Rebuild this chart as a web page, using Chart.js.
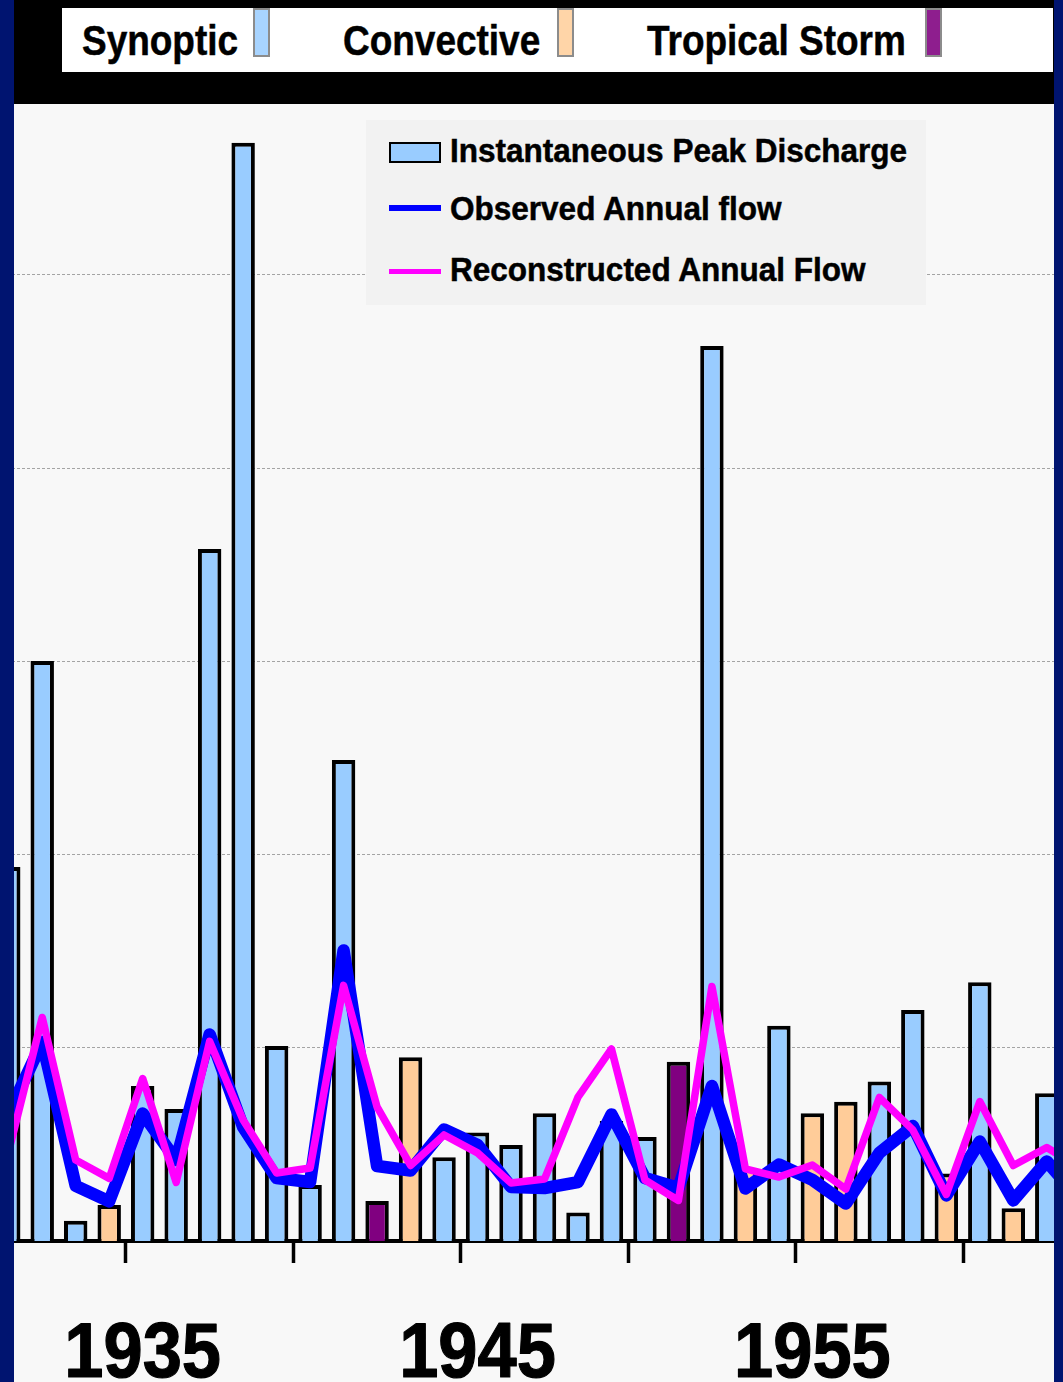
<!DOCTYPE html>
<html>
<head>
<meta charset="utf-8">
<script src="https://cdn.jsdelivr.net/npm/chart.js@4.4.1/dist/chart.umd.min.js"></script>
<style>
  html, body { margin: 0; padding: 0; }
  body {
    width: 1063px; height: 1382px; position: relative; overflow: hidden;
    background: #001470;
    font-family: "Liberation Sans", Arial, sans-serif; font-weight: bold; color: #000;
  }
  .band { position: absolute; left: 14px; top: 0; width: 1040px; height: 104px; background: #000; }
  .keybox { position: absolute; left: 62px; top: 8px; width: 991px; height: 64px; background: #fff; }
  .t { position: absolute; white-space: nowrap; line-height: 1; transform-origin: 0 0; -webkit-text-stroke: 0.5px #000; }
  .key { font-size: 42px; transform: scaleX(0.88); }
  .sw { position: absolute; box-sizing: border-box; border: 2px solid #8c8c8c; }
  .plot { position: absolute; left: 14px; top: 104px; width: 1040px; height: 1278px; overflow: hidden; background: #f8f8f8; }
  #chart { position: absolute; left: -22px; top: 0; }
  .lg { position: absolute; left: 366px; top: 120px; width: 560px; height: 185px; background: #f2f2f2; }
  .lgt { font-size: 33px; transform: scaleX(0.955); }
  .mk { position: absolute; box-sizing: border-box; }
</style>
</head>
<body>
  <div class="band"></div>
  <div class="keybox"></div>
  <div class="t key" style="left:82px; top:19.5px;">Synoptic</div>
  <div class="sw" style="left:253px; top:8px; width:17px; height:49px; background:#a8d4ff;"></div>
  <div class="t key" style="left:343px; top:19.5px;">Convective</div>
  <div class="sw" style="left:557px; top:8px; width:17px; height:49px; background:#ffd5a8;"></div>
  <div class="t key" style="left:647px; top:19.5px;">Tropical Storm</div>
  <div class="sw" style="left:925px; top:8px; width:17px; height:49px; background:#8e1e8e;"></div>

  <div class="plot"><canvas id="chart" width="1105" height="1278"></canvas></div>

  <div class="lg"></div>
  <div class="mk" style="left:389px; top:142px; width:52px; height:21px; background:#99ccff; border:2px solid #000;"></div>
  <div class="t lgt" style="left:450px; top:133.8px;">Instantaneous Peak Discharge</div>
  <div class="mk" style="left:389px; top:205px; width:52px; height:6px; background:#0000ff;"></div>
  <div class="t lgt" style="left:450px; top:192px;">Observed Annual flow</div>
  <div class="mk" style="left:389px; top:269px; width:52px; height:5px; background:#ff00ff;"></div>
  <div class="t lgt" style="left:450px; top:252.8px;">Reconstructed Annual Flow</div>

<script>
// Water years shown along the axis
const YEARS = ['1931','1932','1933','1934','1935','1936','1937','1938','1939','1940',
               '1941','1942','1943','1944','1945','1946','1947','1948','1949','1950',
               '1951','1952','1953','1954','1955','1956','1957','1958','1959','1960',
               '1961','1962','1963'];

// Flood type of each annual peak: S = synoptic, C = convective, T = tropical storm
const PEAK_TYPE = ['S','S','S','C','S','S','S','S','S','S',
                   'S','T','C','S','S','S','S','S','S','S',
                   'T','S','C','S','C','C','S','S','C','S',
                   'C','S',null];

// Instantaneous peak discharge
const PEAK_DISCHARGE = [19360, 30020, 1050, 1860, 8020, 6830, 35820, 56850, 10090, 2900,
                        24900, 2070, 9510, 4330, 5610, 4970, 6610, 1470, 6210, 5380,
                        9280, 46330, 3730, 11140, 6610, 7210, 8250, 11960, 3500, 13390,
                        1690, 7650, null];

// Observed annual flow
const OBSERVED_FLOW = [6620, 10300, 2850, 2050, 6600, 4190, 10690, 5900, 3260, 3050,
                       15040, 3880, 3650, 5770, 4970, 2800, 2740, 3050, 6550, 3260,
                       2740, 8020, 2720, 3960, 3160, 1940, 4560, 5950, 2360, 5150,
                       2100, 4120, 2120];

// Reconstructed annual flow
const RECONSTRUCTED_FLOW = [4660, 11570, 4190, 3240, 8410, 3030, 10330, 6260, 3520, 3780,
                            13230, 6940, 3910, 5490, 4560, 3000, 3210, 7450, 9940, 3160,
                            2100, 13170, 3730, 3310, 3930, 2690, 7430, 5750, 2410, 7220,
                            3910, 4840, 3780];

// Labelled years, years that start a tick interval, and horizontal grid values
const YEAR_LABELS = ['1935', '1945', '1955'];
const TICK_YEARS = ['1935', '1940', '1945', '1950', '1955', '1960'];
const GRID_VALUES = [10000, 20000, 30000, 40000, 50000];

const TYPE_COLORS = { S: '#99ccff', C: '#ffcc99', T: '#800080' };

// Large, slightly condensed year labels under the axis
const yearLabels = {
  id: 'yearLabels',
  afterDraw(chart) {
    const xs = chart.scales.x;
    const ctx = chart.ctx;
    const base = chart.chartArea.bottom + 136;
    ctx.save();
    ctx.fillStyle = '#000';
    ctx.strokeStyle = '#000';
    ctx.lineWidth = 1.2;
    ctx.lineJoin = 'round';
    ctx.font = 'bold 77px "Liberation Sans", Arial, sans-serif';
    ctx.textAlign = 'center';
    ctx.textBaseline = 'alphabetic';
    YEAR_LABELS.forEach(lbl => {
      const px = xs.getPixelForValue(YEARS.indexOf(lbl));
      ctx.save();
      ctx.translate(px, base);
      ctx.scale(0.915, 1);
      ctx.fillText(lbl, 0, 0);
      ctx.strokeText(lbl, 0, 0);
      ctx.restore();
    });
    ctx.restore();
  }
};

new Chart(document.getElementById('chart'), {
  data: {
    labels: YEARS,
    datasets: [
      {
        type: 'line',
        label: 'Reconstructed Annual Flow',
        data: RECONSTRUCTED_FLOW,
        borderColor: '#ff00ff',
        borderWidth: 7.5,
        pointRadius: 0,
        tension: 0,
        borderJoinStyle: 'round',
        borderCapStyle: 'round',
        order: 0
      },
      {
        type: 'line',
        label: 'Observed Annual flow',
        data: OBSERVED_FLOW,
        borderColor: '#0000ff',
        borderWidth: 12.5,
        pointRadius: 0,
        tension: 0,
        borderJoinStyle: 'round',
        borderCapStyle: 'round',
        order: 1
      },
      {
        type: 'bar',
        label: 'Instantaneous Peak Discharge',
        data: PEAK_DISCHARGE,
        backgroundColor: PEAK_TYPE.map(t => t ? TYPE_COLORS[t] : 'rgba(0,0,0,0)'),
        borderColor: '#000',
        borderWidth: 4,
        borderSkipped: 'start',
        barPercentage: 0.7,
        categoryPercentage: 1,
        order: 2
      }
    ]
  },
  options: {
    responsive: false,
    animation: false,
    devicePixelRatio: 1,
    layout: { padding: 0 },
    plugins: { legend: { display: false }, tooltip: { enabled: false } },
    scales: {
      x: {
        type: 'category',
        offset: true,
        grid: {
          offset: true,
          drawOnChartArea: false,
          drawTicks: true,
          tickLength: 22,
          tickWidth: 3.5,
          tickColor: c => (c.index !== undefined && TICK_YEARS.includes(YEARS[c.index])) ? '#000' : 'rgba(0,0,0,0)'
        },
        border: { display: true, color: '#000', width: 4 },
        ticks: { display: false, autoSkip: false },
        afterFit: s => { s.height = 141; }
      },
      y: {
        min: 0,
        max: 58850,
        afterBuildTicks: s => { s.ticks = GRID_VALUES.map(v => ({ value: v })); },
        ticks: { display: false },
        grid: {
          display: true,
          drawOnChartArea: true,
          drawTicks: false,
          tickLength: 0,
          lineWidth: 1,
          color: '#a4a4a4'
        },
        border: { display: false, dash: [3, 2] },
        afterFit: s => { s.width = 0; }
      }
    }
  },
  plugins: [yearLabels]
});
</script>
</body>
</html>
